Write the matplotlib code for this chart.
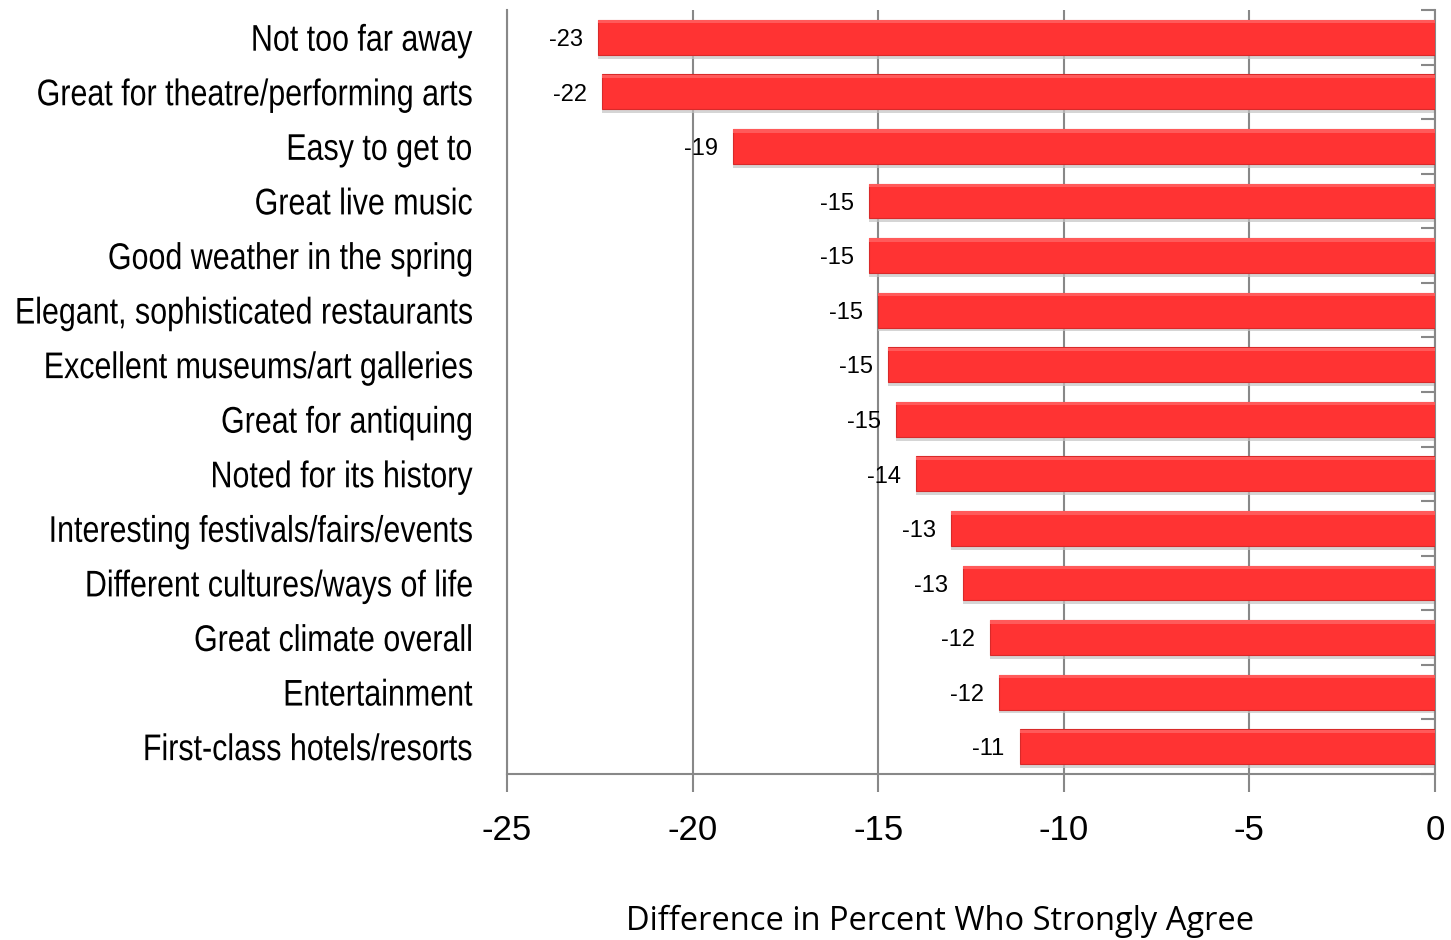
import matplotlib
matplotlib.use("Agg")
import matplotlib.pyplot as plt
from matplotlib.ticker import FixedLocator
from matplotlib.patheffects import AbstractPathEffect
from matplotlib.transforms import Affine2D

categories = [
    "Not too far away",
    "Great for theatre/performing arts",
    "Easy to get to",
    "Great live music",
    "Good weather in the spring",
    "Elegant, sophisticated restaurants",
    "Excellent museums/art galleries",
    "Great for antiquing",
    "Noted for its history",
    "Interesting festivals/fairs/events",
    "Different cultures/ways of life",
    "Great climate overall",
    "Entertainment",
    "First-class hotels/resorts",
]
values = [-22.55, -22.44, -18.91, -15.25, -15.25, -15.0, -14.74, -14.52,
          -13.98, -13.04, -12.72, -11.99, -11.75, -11.18]
xticks = [-25, -20, -15, -10, -5, 0]
xlabel = "Difference in Percent Who Strongly Agree"


class TallText(AbstractPathEffect):
    """Stretch glyphs vertically (narrow-font look) about mid cap height."""

    def __init__(self, sy, fontsize):
        super().__init__()
        self.sy = sy
        self.fontsize = fontsize

    def draw_path(self, renderer, gc, tpath, affine, rgbFace=None):
        bx, by = affine.transform((0.0, 0.0))
        _, uy = affine.transform((0.0, 1.0))
        sign = 1.0 if uy >= by else -1.0
        em = renderer.points_to_pixels(self.fontsize)
        y0 = by + sign * 0.36 * em
        t = affine + Affine2D().translate(0, -y0).scale(1, self.sy).translate(0, y0)
        renderer.draw_path(gc, tpath, t, rgbFace)


W, H = 1451, 940
fig = plt.figure(figsize=(W / 100, H / 100), dpi=100)
ax = fig.add_axes([507 / W, (H - 774) / H, (1435 - 507) / W, (774 - 10) / H])

grey = "#888888"
y = list(range(len(categories)))
bar_h = 0.64

# shadow
ax.barh([yy + 0.07 for yy in y], values, height=bar_h, left=0,
        color="#c4c4c4", alpha=0.7, zorder=2, linewidth=0)
# bars
ax.barh(y, values, height=bar_h, color="#ff3333", edgecolor="#d82a2a",
        linewidth=0.8, zorder=3)
# subtle top highlight
ax.barh([yy - bar_h / 2 + 0.035 for yy in y], values, height=0.06,
        color="#ff5a5a", linewidth=0, zorder=4)

for yy, v in zip(y, values):
    ax.annotate(f"{v:.0f}", xy=(v, yy), xytext=(-11, -2),
                textcoords="offset points", ha="right", va="center",
                fontsize=17, family="Liberation Sans", color="black", zorder=5)

ax.set_xlim(-25, 0)
ax.set_ylim(len(categories) - 0.5, -0.5)

ax.set_xticks(xticks)
ax.set_xticklabels([str(t) for t in xticks], fontsize=25,
                   family="Liberation Sans")
ax.tick_params(axis="x", direction="out", length=13, width=1.5,
               color=grey, pad=16)

cat_fs = 21.9
ax.set_yticks(y)
ax.set_yticklabels(categories, fontsize=cat_fs, family="Liberation Sans")
ax.tick_params(axis="y", which="major", length=0, pad=25)
for lab in ax.get_yticklabels():
    lab.set_path_effects([TallText(1.22, cat_fs)])
ax.yaxis.set_minor_locator(FixedLocator([i - 0.5 for i in range(len(categories) + 1)]))
ax.tick_params(axis="y", which="minor", left=False, right=True,
               direction="in", length=10, width=1.5, color=grey)

ax.grid(axis="x", color=grey, linewidth=1.5, zorder=1)
ax.set_axisbelow(True)
ax.spines["top"].set_visible(False)
for s in ["left", "right", "bottom"]:
    ax.spines[s].set_color(grey)
    ax.spines[s].set_linewidth(1.5)

fig.text(940 / W, 1 - 921 / H, xlabel, ha="center", va="center",
         fontsize=23.5, family="Open Sans")

fig.savefig("out.png", dpi=100)
